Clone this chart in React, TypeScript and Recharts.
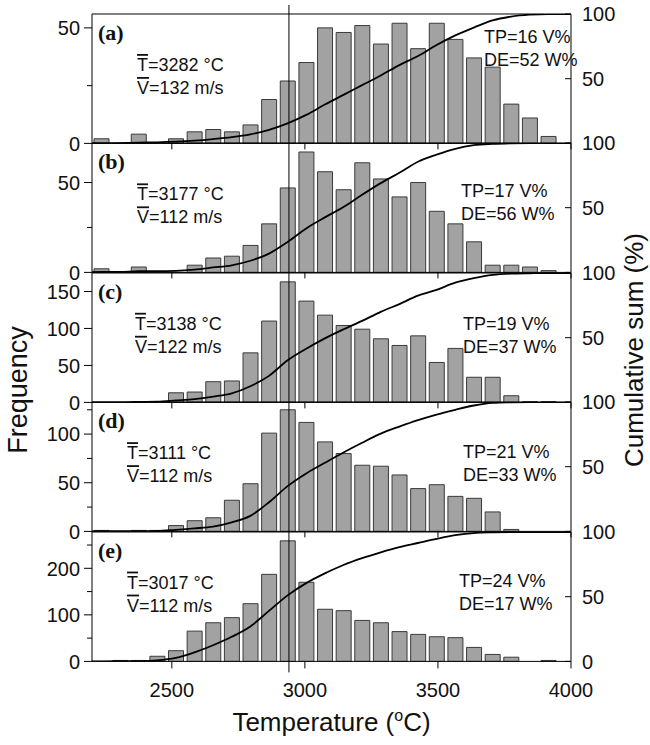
import React from 'react'
import { ComposedChart, Bar, Line, XAxis, YAxis, ReferenceLine } from 'recharts'

// bin centres (°C), 70 °C wide bins
const TEMPS = [
  2235, 2305, 2375, 2445, 2515, 2585, 2655, 2725, 2795, 2865, 2935, 3005, 3075,
  3145, 3215, 3285, 3355, 3425, 3495, 3565, 3635, 3705, 3775, 3845, 3915,
]

const FREQ_A = [2, 0, 4, 0, 2, 5, 6, 5, 8, 19, 27, 35, 50, 48, 51, 43, 52, 41, 52, 45, 37, 33, 17, 11, 3]
const FREQ_B = [2, 0, 3, 0, 0, 4, 8, 9, 15, 27, 47, 67, 56, 46, 61, 52, 42, 50, 34, 27, 17, 4, 4, 3, 1]
const FREQ_C = [0, 0, 1, 0, 13, 14, 28, 29, 67, 110, 163, 137, 118, 104, 99, 86, 77, 90, 54, 73, 34, 34, 9, 1, 1]
const FREQ_D = [1, 0, 1, 1, 6, 11, 14, 32, 49, 101, 125, 112, 92, 80, 68, 67, 58, 44, 48, 36, 34, 20, 2, 0, 0]
const FREQ_E = [0, 2, 2, 11, 23, 65, 83, 94, 124, 187, 259, 170, 112, 109, 88, 83, 64, 58, 53, 51, 30, 15, 9, 0, 2]

// cumulative sum (%) read at the bin centres
const CUM_A = [0, 0.2, 0.6, 0.8, 1.3, 2.1, 3.3, 4.8, 7, 10.5, 15.5, 22, 30, 37.5, 45, 52.5, 60.5, 67.5, 76, 83.5, 89.5, 95, 98, 99.5, 100]
const CUM_B = [0.4, 0.4, 0.9, 0.9, 1.2, 2.2, 3.8, 5.5, 9, 14.5, 23.5, 34, 42.5, 50.5, 60, 69, 77, 85.5, 91, 95.5, 98.3, 99.3, 99.8, 100, 100]
const CUM_C = [0, 0, 0.3, 0.5, 1.5, 2.6, 4.5, 7, 12.5, 20.5, 32.5, 41.5, 49.5, 56.5, 63, 70, 76, 82.5, 87, 92.5, 96, 98.5, 99.5, 99.8, 100]
const CUM_D = [0.1, 0.1, 0.2, 0.3, 1.2, 2.3, 3.7, 7, 12, 22.5, 35, 44.8, 53, 61, 68.5, 75.5, 81, 86, 90.3, 94, 97.3, 99.3, 99.8, 100, 100]
const CUM_E = [0, 0.1, 0.2, 0.8, 2.7, 7, 12.5, 19, 27, 39, 51, 60.5, 68, 74.5, 79.8, 84.3, 88.3, 91.5, 94.7, 97.5, 99.2, 99.7, 99.9, 99.9, 100]
// the curve runs flat at 0 % / 100 % out past both plot edges
const CUM_START = { t: 2165, c: 0 }
const CUM_END = { t: 4035, c: 100 }

const PANEL_LABELS = ['(a)', '(b)', '(c)', '(d)', '(e)']
const T_MEAN = [3282, 3177, 3138, 3111, 3017]
const V_MEAN = [132, 112, 122, 112, 112]
const TP = [16, 17, 19, 21, 24]
const DE = [52, 56, 37, 33, 17]

const FREQ_MAX = [56, 72, 175, 133, 278]
const FREQ_TICKS = [
  [0, 25, 50],
  [0, 25, 50],
  [0, 25, 50, 75, 100, 125, 150],
  [0, 25, 50, 75, 100, 125],
  [0, 50, 100, 150, 200, 250],
]
const FREQ_LABELED = [[0, 50], [0, 50], [0, 50, 100, 150], [0, 50, 100], [0, 100, 200]]
const X_DOMAIN = [2200, 4000]
const X_TICKS = [2500, 3000, 3500, 4000]
const CUM_TICKS = [0, 50, 100]
const MARK_T = 2940

const FREQS = [FREQ_A, FREQ_B, FREQ_C, FREQ_D, FREQ_E]
const CUMS = [CUM_A, CUM_B, CUM_C, CUM_D, CUM_E]

// layout
const W = 650
const PLOT_L = 92
const PLOT_R = 571
const PLOT_H = 129.4
const TOP0 = 14
const M_TOP = 14
const SANS = '"Liberation Sans", Arial, Helvetica, sans-serif'
const SERIF = '"Liberation Serif", "Times New Roman", serif'
const TICK_FS = 20
const T_X = [137, 137, 135, 127, 127]
const TP_X = [484, 461, 463, 463, 459]
const TP_Y = [29, 54, 57, 56, 55]

function LeftTick(props: any) {
  const { x, y, payload, labeled } = props
  const major = labeled.includes(payload.value)
  return (
    <g>
      <line x1={x - (major ? 8 : 5)} x2={x} y1={y} y2={y} stroke="#000" />
      {major && (
        <text x={x - 12} y={y} dy="0.36em" textAnchor="end" fontSize={TICK_FS} fontFamily={SANS} fill="#111">
          {payload.value}
        </text>
      )}
    </g>
  )
}

function RightTick(props: any) {
  const { x, y, payload, shown } = props
  return (
    <g>
      <line x1={x - 6} x2={x} y1={y} y2={y} stroke="#000" />
      {shown.includes(payload.value) && (
        <text x={x + 11} y={y} dy="0.36em" textAnchor="start" fontSize={TICK_FS} fontFamily={SANS} fill="#111">
          {payload.value}
        </text>
      )}
    </g>
  )
}

function Panel({ i }: { i: number }) {
  const last = i === 4
  const rows = TEMPS.map((t, k) => ({ t, f: FREQS[i][k] }))
  const cum = [CUM_START, ...TEMPS.map((t, k) => ({ t, c: CUMS[i][k] })), CUM_END]
  const xh = last ? 45 : 16
  const max = FREQ_MAX[i]
  const perPx = max / PLOT_H
  const lo = last ? -11 * perPx : 0
  const hi = i === 0 ? max + 9 * perPx : max
  const top = TOP0 + i * PLOT_H - M_TOP
  return (
    <div style={{ position: 'absolute', left: 0, top }}>
      <ComposedChart
        width={W}
        height={M_TOP + PLOT_H + xh}
        data={rows}
        margin={{ top: M_TOP, right: 0, bottom: 0, left: 0 }}
      >
        <XAxis
          dataKey="t"
          type="number"
          domain={X_DOMAIN}
          allowDataOverflow
          ticks={X_TICKS}
          height={xh}
          axisLine={{ stroke: '#000' }}
          tickLine={{ stroke: '#000' }}
          tickSize={last ? 7 : 6}
          tickMargin={last ? 14 : 0}
          tickFormatter={(v: number) => (last ? String(v) : '')}
          tick={{ fontSize: TICK_FS, fontFamily: SANS, fill: '#111' }}
        />
        <YAxis
          yAxisId="f"
          type="number"
          domain={[0, max]}
          allowDataOverflow
          ticks={FREQ_TICKS[i]}
          width={PLOT_L}
          axisLine={{ stroke: '#000' }}
          tickLine={false}
          tickSize={0}
          tickMargin={0}
          tick={(p: any) => <LeftTick {...p} labeled={FREQ_LABELED[i]} />}
        />
        <YAxis
          yAxisId="c"
          orientation="right"
          type="number"
          domain={[0, 100]}
          allowDataOverflow
          ticks={CUM_TICKS}
          width={W - PLOT_R}
          axisLine={{ stroke: '#000' }}
          tickLine={false}
          tickSize={0}
          tickMargin={0}
          tick={(p: any) => <RightTick {...p} shown={last ? [0, 50, 100] : [50, 100]} />}
        />
        <Bar
          yAxisId="f"
          dataKey="f"
          barSize={15}
          fill="#a2a2a2"
          stroke="#3a3a3a"
          strokeWidth={1}
          isAnimationActive={false}
        />
        <Line
          yAxisId="c"
          data={cum}
          dataKey="c"
          type="monotone"
          stroke="#000"
          strokeWidth={1.8}
          dot={false}
          isAnimationActive={false}
        />
        <ReferenceLine yAxisId="f" y={max} stroke="#000" />
        <ReferenceLine
          yAxisId="f"
          ifOverflow="visible"
          segment={[{ x: MARK_T, y: lo }, { x: MARK_T, y: hi }]}
          stroke="#000"
          strokeWidth={1}
        />
      </ComposedChart>
    </div>
  )
}

function Overline({ children }: { children: string }) {
  return <tspan style={{ textDecoration: 'overline' }}>{children}</tspan>
}

export default function App() {
  return (
    <div style={{ position: 'absolute', left: 0, top: 0, width: 650, height: 745, background: '#fff' }}>
      {PANEL_LABELS.map((_, i) => (
        <Panel key={i} i={i} />
      ))}
      <svg width={650} height={745} style={{ position: 'absolute', left: 0, top: 0, pointerEvents: 'none' }}>
        {PANEL_LABELS.map((lab, i) => {
          const top = TOP0 + i * PLOT_H
          return (
            <g key={lab} fontFamily={SANS} fill="#111">
              <text x={98} y={top + 26} fontFamily={SERIF} fontWeight="bold" fontSize={22}>
                {lab}
              </text>
              <text x={T_X[i]} y={top + 57} fontSize={18}>
                <Overline>T</Overline>={T_MEAN[i]} °C
              </text>
              <text x={T_X[i]} y={top + 80} fontSize={18}>
                <Overline>V</Overline>={V_MEAN[i]} m/s
              </text>
              <text x={TP_X[i]} y={top + TP_Y[i]} fontSize={18}>
                TP={TP[i]} V%
              </text>
              <text x={TP_X[i]} y={top + TP_Y[i] + 23} fontSize={18}>
                DE={DE[i]} W%
              </text>
            </g>
          )
        })}
        <text
          x={27}
          y={390}
          transform="rotate(-90 27 390)"
          textAnchor="middle"
          fontSize={27}
          fontFamily={SANS}
          fill="#111"
        >
          Frequency
        </text>
        <text
          x={643}
          y={350}
          transform="rotate(-90 643 350)"
          textAnchor="middle"
          fontSize={26}
          fontFamily={SANS}
          fill="#111"
        >
          Cumulative sum (%)
        </text>
        <text x={(PLOT_L + PLOT_R) / 2} y={731} textAnchor="middle" fontSize={26} fontFamily={SANS} fill="#111">
          Temperature (<tspan fontSize={16} dy={-10}>o</tspan>
          <tspan dy={10}>C)</tspan>
        </text>
      </svg>
    </div>
  )
}
